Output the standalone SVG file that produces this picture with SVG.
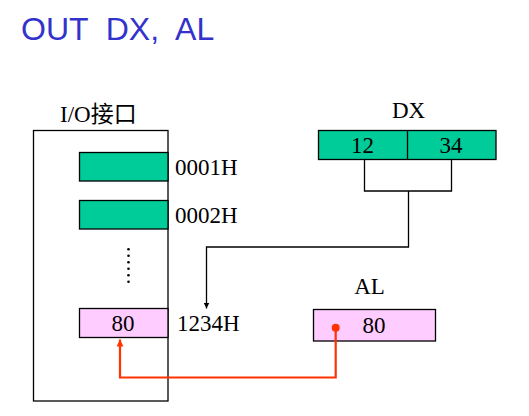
<svg xmlns="http://www.w3.org/2000/svg" width="529" height="416" viewBox="0 0 529 416">
<style>
.t{font-family:"Liberation Serif","Noto Sans CJK SC",serif;font-size:23px;fill:#000}
.c{text-anchor:middle}
.title{font-family:"Liberation Sans",Arial,sans-serif;font-size:32px;fill:#3333CC;white-space:pre}
.g{fill:#00CC99;stroke:#000;stroke-width:1.3}
.p{fill:#FFCCFF;stroke:#000;stroke-width:1.3}
.ln{fill:none;stroke:#000;stroke-width:1.3}
.red{fill:none;stroke:#FF3300;stroke-width:2.2}
</style>
<defs>
<marker id="ab" viewBox="0 0 10 10" refX="10" refY="5" markerWidth="6" markerHeight="6" markerUnits="userSpaceOnUse" orient="auto"><path d="M0,0L10,5L0,10z" fill="#000"/></marker>
<marker id="ar" viewBox="0 0 10 10" refX="10" refY="5" markerWidth="7" markerHeight="7" markerUnits="userSpaceOnUse" orient="auto"><path d="M0,0L10,5L0,10z" fill="#FF3300"/></marker>
</defs>
<rect width="529" height="416" fill="#fff"/>
<text class="title" x="21" y="40" xml:space="preserve">OUT  DX,  AL</text>
<g id="io">
<text class="t" x="60" y="121.5">I/O接口</text>
<rect class="ln" x="33.5" y="130.5" width="134.5" height="270.5"/>
</g>
<g id="port1">
<rect class="g" x="79.5" y="152.5" width="88.5" height="28.5"/>
<text class="t" x="175" y="175">0001H</text>
</g>
<g id="port2">
<rect class="g" x="79.5" y="200.5" width="88.5" height="28.5"/>
<text class="t" x="175" y="223">0002H</text>
</g>
<g id="dots" fill="#000">
<circle cx="128.5" cy="249.3" r="1.3"/>
<circle cx="128.5" cy="255.8" r="1.3"/>
<circle cx="128.5" cy="262.3" r="1.3"/>
<circle cx="128.5" cy="268.8" r="1.3"/>
<circle cx="128.5" cy="275.3" r="1.3"/>
<circle cx="128.5" cy="281.8" r="1.3"/>
</g>
<g id="port1234">
<rect class="p" x="79.5" y="308.5" width="88.5" height="29"/>
<text class="t c" x="123" y="331">80</text>
<text class="t" x="177" y="331">1234H</text>
</g>
<g id="dx">
<text class="t c" x="408.5" y="118">DX</text>
<rect class="g" x="318.5" y="130.5" width="177.5" height="29"/>
<line class="ln" x1="407.5" y1="130.5" x2="407.5" y2="159.5"/>
<text class="t c" x="362.5" y="153">12</text>
<text class="t c" x="451" y="153">34</text>
</g>
<g id="al">
<text class="t c" x="369.5" y="294">AL</text>
<rect class="p" x="313.5" y="309.5" width="122" height="31.5"/>
<text class="t c" x="374" y="332.5">80</text>
</g>
<g id="connectors">
<path class="ln" d="M364.5,159.5V191H451.5V159.5"/>
<path class="ln" d="M408.5,191V247H206.5V308.5" marker-end="url(#ab)"/>
<circle cx="335.7" cy="327.7" r="4" fill="#FF3300"/>
<path class="red" d="M335.7,327.7V377.5H120V339.5" marker-end="url(#ar)"/>
</g>
</svg>
